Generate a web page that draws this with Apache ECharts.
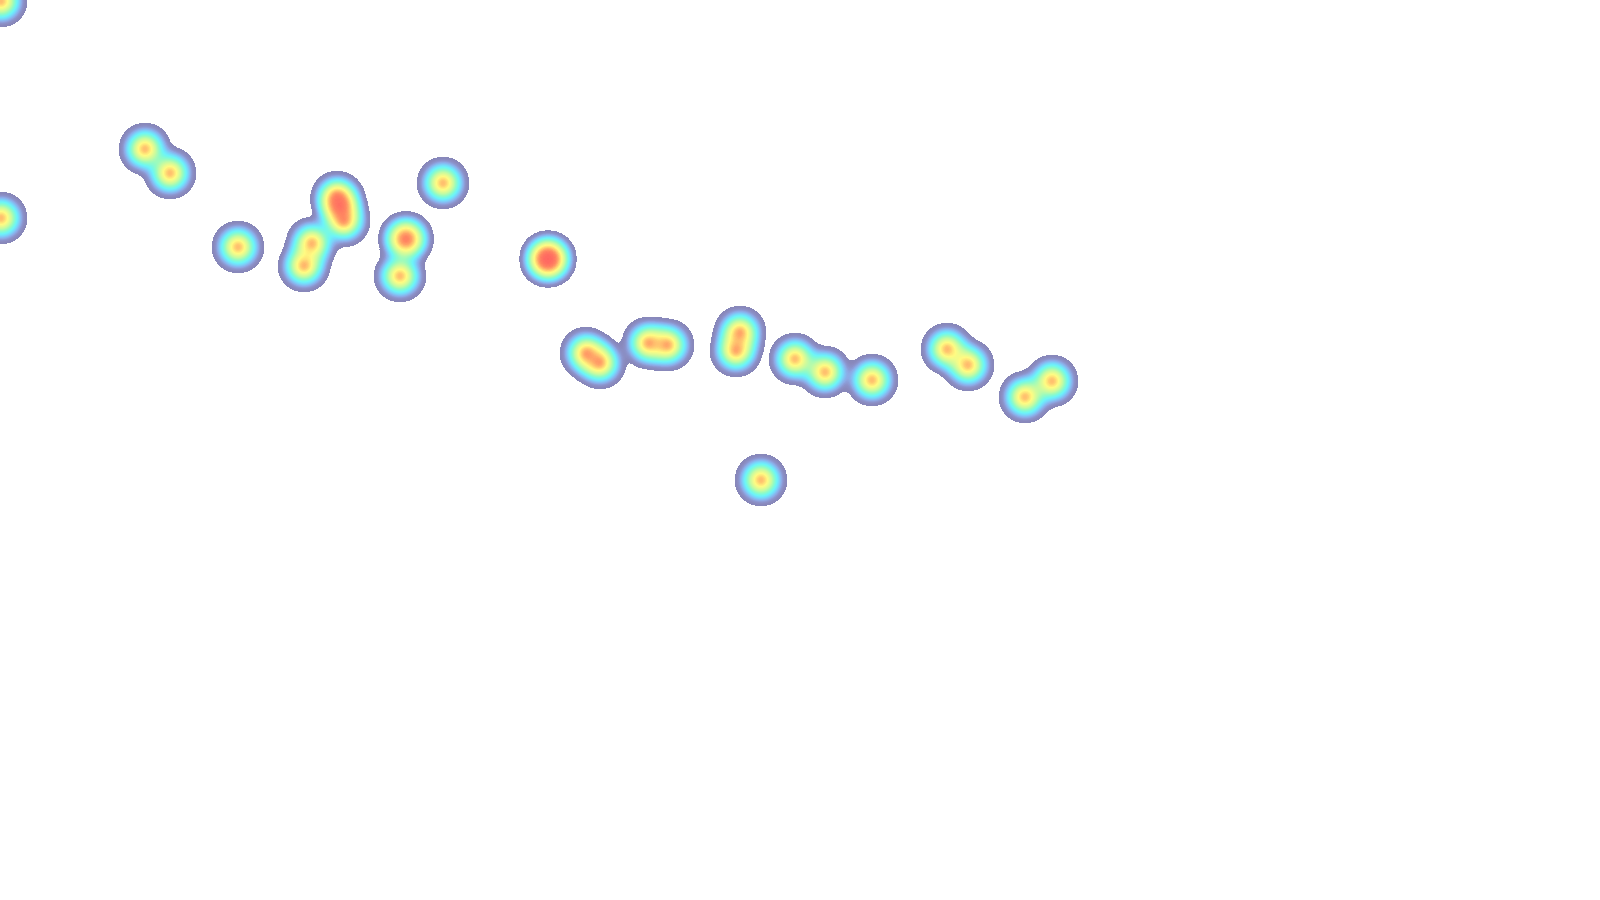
<!DOCTYPE html>
<html>
<head>
<meta charset="utf-8">
<script src="https://cdn.jsdelivr.net/npm/echarts@6/dist/echarts.min.js"></script>
<style>html,body{margin:0;padding:0;background:#fff;}#main{width:1600px;height:900px;}</style>
</head>
<body>
<div id="main"></div>
<script>
// Point positions (plane coordinates) and intensities
const pointX = [1, 1, 145, 170, 238, 312, 304, 337, 340, 344, 443, 406, 406, 400, 548, 548, 548, 586, 600, 648, 668, 740, 736, 795, 825, 872, 947, 968, 1052, 1025, 761];
const pointY = [1, 218, 149, 173, 247, 243, 266, 197, 206, 221, 183, 239, 239, 276, 259, 259, 259, 353, 363, 343, 345, 332, 351, 359, 372, 380, 349, 365, 381, 397, 480];
const pointValue = [1, 1, 1, 1, 1, 1, 1, 1, 1, 1, 1, 1, 0.7, 1, 1, 1, 0.4, 1, 1, 1, 1, 1, 1, 1, 1, 1, 1, 1, 1, 1, 1];
const colorStops = ['#1a1a70', '#1e1e7a', '#262686', '#2c3ca4', '#3064d0', '#208ce8', '#10b4f4', '#00d4f8', '#00ecf0', '#10f4d0', '#30f6b0', '#50f890', '#78f878', '#a0f860', '#c0f850', '#e0fa40', '#fff830', '#ffd020', '#ff9010', '#ff4000', '#ff0000'];

echarts.registerMap('blank', {
  type: 'FeatureCollection',
  features: [{
    type: 'Feature', properties: { name: 'area' },
    geometry: { type: 'Polygon', coordinates: [[[0, 0], [1600, 0], [1600, -900], [0, -900], [0, 0]]] }
  }]
});

const data = pointX.map((x, i) => [x, -pointY[i], pointValue[i]]);

const chart = echarts.init(document.getElementById('main'));
chart.setOption({
  animation: false,
  backgroundColor: '#ffffff',
  geo: {
    map: 'blank',
    roam: false,
    silent: true,
    left: 0, top: 0, width: 1600, height: 900,
    boundingCoords: [[0, 0], [1600, -900]],
    label: { show: false },
    itemStyle: { areaColor: 'rgba(0,0,0,0)', borderWidth: 0, borderColor: 'rgba(0,0,0,0)' },
    emphasis: { disabled: true }
  },
  visualMap: {
    show: false,
    min: 0,
    max: 1,
    range: [0.06, 1],
    seriesIndex: 0,
    inRange: { color: colorStops },
    outOfRange: { color: 'rgba(255,255,255,0)' }
  },
  series: [{
    type: 'heatmap',
    coordinateSystem: 'geo',
    data: data,
    pointSize: 16,
    blurSize: 16,
    minOpacity: 0.53,
    maxOpacity: 0.62
  }]
});
</script>
</body>
</html>
